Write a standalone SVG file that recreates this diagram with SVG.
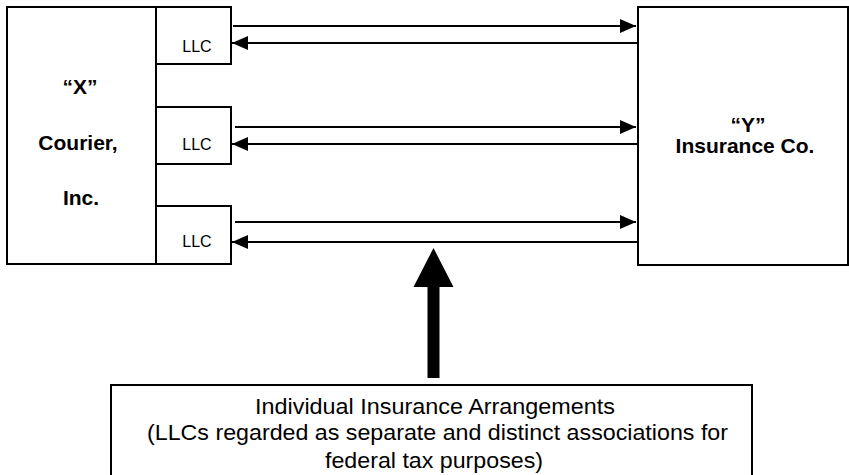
<svg xmlns="http://www.w3.org/2000/svg" width="849" height="475" viewBox="0 0 849 475">
<style>
.box{fill:#fff;stroke:#000;stroke-width:2}
.ln{stroke:#000;stroke-width:2;fill:none}
.bold{font-family:"Liberation Sans",Arial,sans-serif;font-weight:bold;font-size:21px;fill:#000;text-anchor:middle}
.llc{font-family:"Liberation Sans",Arial,sans-serif;font-size:16px;fill:#000;text-anchor:middle}
.note{font-family:"Liberation Sans",Arial,sans-serif;font-size:22px;fill:#000;text-anchor:middle}
</style>
<defs>
<marker id="ah" markerUnits="userSpaceOnUse" markerWidth="16" markerHeight="16" viewBox="0 0 16 16" refX="16" refY="8" orient="auto">
<path d="M0,1 L16,8 L0,15 Z" fill="#000"/>
</marker>
</defs>
<rect width="849" height="475" fill="#fff"/>
<g id="node-x">
<rect class="box" x="7" y="7" width="149" height="257"/>
<text class="bold" x="80" y="94">“X”</text>
<text class="bold" x="78" y="150">Courier,</text>
<text class="bold" x="81" y="205">Inc.</text>
</g>
<g id="node-llc1">
<rect class="box" x="156" y="7" width="75" height="57"/>
<text class="llc" x="197" y="52">LLC</text>
</g>
<g id="node-llc2">
<rect class="box" x="156" y="107" width="75" height="57"/>
<text class="llc" x="197" y="150">LLC</text>
</g>
<g id="node-llc3">
<rect class="box" x="156" y="206" width="75" height="58"/>
<text class="llc" x="197" y="247">LLC</text>
</g>
<g id="node-y">
<rect class="box" x="638" y="7" width="210" height="258"/>
<text class="bold" x="748" y="132">“Y”</text>
<text class="bold" x="745" y="153">Insurance Co.</text>
</g>
<g id="node-note">
<rect class="box" x="111" y="385" width="641" height="100"/>
<text class="note" x="435" y="414" textLength="360" lengthAdjust="spacingAndGlyphs">Individual Insurance Arrangements</text>
<text class="note" x="437.5" y="440" textLength="581" lengthAdjust="spacingAndGlyphs">(LLCs regarded as separate and distinct associations for</text>
<text class="note" x="434" y="468" textLength="218" lengthAdjust="spacingAndGlyphs">federal tax purposes)</text>
</g>
<g id="connectors">
<line class="ln" x1="233" y1="26" x2="636" y2="26" marker-end="url(#ah)"/>
<line class="ln" x1="638" y1="43" x2="232" y2="43" marker-end="url(#ah)"/>
<line class="ln" x1="235" y1="127" x2="636" y2="127" marker-end="url(#ah)"/>
<line class="ln" x1="638" y1="144" x2="232" y2="144" marker-end="url(#ah)"/>
<line class="ln" x1="235" y1="222" x2="636" y2="222" marker-end="url(#ah)"/>
<line class="ln" x1="638" y1="242" x2="232" y2="242" marker-end="url(#ah)"/>
<path d="M427.5,378 L439.5,378 L439.5,287 L453.5,287 L433.5,248 L413.5,287 L427.5,287 Z" fill="#000"/>
</g>
</svg>
